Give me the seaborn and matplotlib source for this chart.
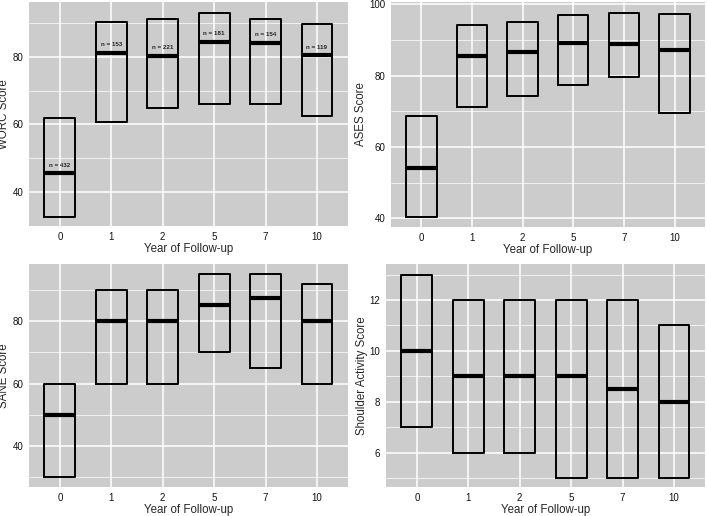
import pandas as pd
import seaborn as sns
import matplotlib.pyplot as plt

# categorias del eje x
years = ['0', '1', '2', '5', '7', '10']

# WORC: cuartil inferior, mediana, cuartil superior y n
worc_q1 = [32.7, 60.6, 64.8, 66.2, 66.0, 62.5]
worc_med = [45.5, 81.2, 80.3, 84.5, 84.3, 80.5]
worc_q3 = [62.0, 90.4, 91.2, 93.2, 91.4, 89.9]
worc_n = [432, 153, 221, 181, 154, 119]

# ASES
ases_q1 = [40.4, 71.3, 74.2, 77.4, 79.7, 69.4]
ases_med = [54.0, 85.5, 86.6, 89.0, 88.8, 87.3]
ases_q3 = [68.7, 94.3, 94.9, 97.1, 97.6, 97.3]

# SANE
sane_q1 = [30, 60, 60, 70, 65, 60]
sane_med = [50, 80, 80, 85, 87.5, 80]
sane_q3 = [60, 90, 90, 95, 95, 92]

# Shoulder Activity
sas_q1 = [7, 6, 6, 5, 5, 5]
sas_med = [10, 9, 9, 9, 8.5, 8]
sas_q3 = [13, 12, 12, 12, 12, 11]


def cajas(q1, med, q3):
    # cinco puntos por año: Q1, Q1, mediana, Q3, Q3 -> cuartiles exactos
    filas = []
    for y, a, m, b in zip(years, q1, med, q3):
        for v in [a, a, m, b, b]:
            filas.append({'year': y, 'value': v})
    return pd.DataFrame(filas)


sns.set_style('darkgrid', {'axes.facecolor': '#CCCCCC', 'grid.color': 'white'})
plt.rcParams['font.family'] = ['Liberation Sans', 'DejaVu Sans']

fig = plt.figure(figsize=(7.07, 5.16), dpi=100)

paneles = [
    ([0.041, 0.562, 0.451, 0.434], worc_q1, worc_med, worc_q3, 'WORC Score',
     (29.9, 96.3), [40, 60, 80], [30, 50, 70, 90]),
    ([0.553, 0.560, 0.444, 0.436], ases_q1, ases_med, ases_q3, 'ASES Score',
     (37.6, 100.6), [40, 60, 80, 100], [50, 70, 90]),
    ([0.041, 0.056, 0.451, 0.432], sane_q1, sane_med, sane_q3, 'SANE Score',
     (26.9, 98.2), [40, 60, 80], [30, 50, 70, 90]),
    ([0.546, 0.056, 0.451, 0.432], sas_q1, sas_med, sas_q3, 'Shoulder Activity Score',
     (4.64, 13.41), [6, 8, 10, 12], [5, 7, 9, 11, 13]),
]

axes = []
for pos, q1, med, q3, ylab, ylim, majors, minors in paneles:
    ax = fig.add_axes(pos)
    df = cajas(q1, med, q3)
    sns.boxplot(data=df, x='year', y='value', order=years, ax=ax,
                fill=False, color='black', width=0.6, whis=0,
                showcaps=False, showfliers=False, linewidth=1.4,
                medianprops=dict(linewidth=3, color='black'))
    ax.set_xlim(-0.6, 5.6)
    ax.set_ylim(*ylim)
    ax.set_yticks(majors)
    ax.set_yticks(minors, minor=True)
    ax.grid(True, which='major', color='white', linewidth=1.1)
    ax.grid(True, which='minor', axis='y', color='white', linewidth=0.5)
    ax.set_axisbelow(True)
    ax.tick_params(which='major', length=2.5, width=0.8, color='#333333',
                   labelsize=7, labelcolor='#111111', pad=1.5)
    ax.tick_params(which='minor', length=0)
    ax.set_xlabel('Year of Follow-up', fontsize=8.3, labelpad=0.8)
    ax.set_ylabel(ylab, fontsize=8.3, labelpad=1.5)
    for s in ax.spines.values():
        s.set_visible(False)
    axes.append(ax)

# etiquetas n en el panel WORC
for i, (m, n) in enumerate(zip(worc_med, worc_n)):
    axes[0].text(i, m + 2.4, f'n = {n}', ha='center', va='center',
                 fontsize=4.5, fontweight='bold')

plt.savefig('out.png', dpi=100)
